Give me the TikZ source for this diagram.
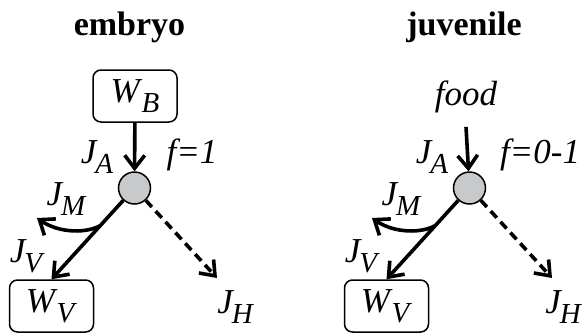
\documentclass[tikz,border=0pt]{standalone}
\usepackage{fontspec}
\setmainfont{Liberation Serif}
\usetikzlibrary{arrows.meta,calc}
\definecolor{hubgray}{RGB}{200,201,203}
\newcommand{\fl}[2]{\textit{#1}\kern-0.5pt\raisebox{-5pt}{\fontsize{14.5}{15}\selectfont\textit{#2}}}

\begin{document}
\begin{tikzpicture}[x=0.5pt,y=-0.5pt,
 stagetitle/.style={anchor=base,font=\bfseries\fontsize{17}{20}\selectfont},
 fluxlbl/.style={anchor=base,inner sep=0pt,font=\fontsize{17.5}{20}\selectfont\itshape},
 poolbox/.style={draw,line width=0.75pt,rounded corners=4pt,minimum width=42pt,minimum height=26pt,inner sep=0pt,font=\fontsize{17.5}{20}\selectfont},
 hubnode/.style={circle,draw,line width=0.75pt,fill=hubgray,minimum size=16pt,inner sep=0pt},
 fluxarrow/.style={line width=1.8pt,-{Straight Barb[length=6.5pt,width=10pt]}},
 heatarrow/.style={fluxarrow,dash pattern=on 4.5pt off 2.8pt}]
\useasboundingbox (0,0) rectangle (584,333);
% embryo
\node[stagetitle] (tE) at (129.5,35) {embryo};
\node[poolbox] (WB) at (135,96) {\fl{W}{B}};
\node[hubnode] (c1) at (134.5,188) {};
\node[poolbox] (WV1) at (51.5,306) {\fl{W}{V}};
\coordinate (b1) at ($(c1)!0.41!(WV1.north)$);
\coordinate (m1) at (37,218);
\coordinate (h1) at (217,278);
\node[fluxlbl] (JA1) at (97,163) {\fl{J}{A}};
\node[fluxlbl] (f1) at (192,163) {f=1};
\node[fluxlbl] (JM1) at (66,205) {\fl{J}{M}};
\node[fluxlbl] (JV1) at (26,262) {\fl{J}{V}};
\node[fluxlbl] (JH1) at (235,313) {\fl{J}{H}};
\draw[fluxarrow] (WB) -- (c1);
\draw[fluxarrow] (c1) -- (WV1.north);
\draw[fluxarrow] (b1) .. controls (88,233) and (60,234) .. (m1);
\draw[heatarrow] (c1) -- (h1);
% juvenile
\node[stagetitle] (tJ) at (464,35) {juvenile};
\node[fluxlbl] (food) at (466,105) {food};
\node[hubnode] (c2) at (469.5,188) {};
\node[poolbox] (WV2) at (386.5,306) {\fl{W}{V}};
\coordinate (b2) at ($(c2)!0.41!(WV2.north)$);
\coordinate (m2) at (372,218);
\coordinate (h2) at (552,278);
\node[fluxlbl] (JA2) at (432,163) {\fl{J}{A}};
\node[fluxlbl] (f2) at (540,163) {f=0-1};
\node[fluxlbl] (JM2) at (401,205) {\fl{J}{M}};
\node[fluxlbl] (JV2) at (361,262) {\fl{J}{V}};
\node[fluxlbl] (JH2) at (563,313) {\fl{J}{H}};
\draw[fluxarrow] ([yshift=-7pt]food.south) -- (c2);
\draw[fluxarrow] (c2) -- (WV2.north);
\draw[fluxarrow] (b2) .. controls (423,233) and (395,234) .. (m2);
\draw[heatarrow] (c2) -- (h2);
\end{tikzpicture}
\end{document}
